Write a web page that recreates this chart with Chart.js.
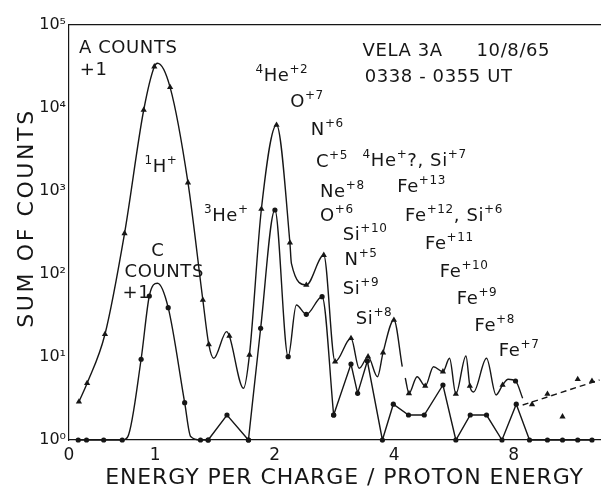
<!DOCTYPE html>
<html lang="en">
<head>
<meta charset="UTF-8">
<title>Vela 3A energy per charge spectrum</title>
<style>
  html, body { margin: 0; padding: 0; background: #fff; }
  canvas { display: block; }
</style>
</head>
<body>
<canvas id="spectrum" width="604" height="489"></canvas>
<script src="https://cdn.jsdelivr.net/npm/chart.js@4"></script>
<script>
// axis ticks
const xTickValues = [0, 1, 2, 4, 8];
const xTickLabels = ['0', '1', '2', '4', '8'];
const yTickValues = [1, 10, 100, 1000, 10000, 100000];
const yTickLabels = ['10⁰', '10¹', '10²', '10³', '10⁴', '10⁵'];

// A counts + 1: measured points ('t' triangle, 'c' dot) and curve vertices ('')
// the null entry is where the pen lifted after the peak at 4
const aEnergy = [0.115, 0.21, 0.417, 0.644, 0.866, 0.989, 1.013, 1.09, 1.209, 1.318,
  1.364, 1.404, 1.513, 1.537, 1.669, 1.727, 1.851, 2.021, 2.184, 2.203,
  2.402, 2.658, 2.839, 3.113, 3.265, 3.437, 3.63, 3.749, 3.993, 4.191,
  4.23, 4.265, 4.357, 4.568, 4.789, 5.024, 5.307, 5.514, 5.72, 6.065,
  6.204, 6.34, 6.834, 7.223, 7.502, 7.745, 8.086, 8.428];
const aCounts = [2.89, 4.82, 18.8, 309, 9460, 31500, 34600, 17750, 1259, 48.6,
  14.2, 9.64, 20.2, 17.9, 4.2, 10.6, 607, 6240, 238, 134.6,
  73.7, 169, 8.78, 16.8, 7.31, 10.1, 5.79, 11.3, 27.9, 7.64,
  null, 5.59, 3.65, 5.79, 4.47, 7.64, 6.65, 9.64, 3.58, 10.3,
  4.47, 3.79, 9.64, 3.49, 4.6, 5.39, 5.14, 3.18];
const aMarker = ['t', 't', 't', 't', 't', 't', '', 't', 't', 't',
  't', '', '', 't', '', 't', 't', 't', 't', '',
  't', 't', 't', 't', '', 't', '', 't', 't', '',
  '', '', 't', '', 't', '', 't', '', 't', '',
  't', '', '', '', 't', '', 'c', ''];

// dashed continuation of A and the scattered points around it
const aTailEnergy = [8.428, 13.16];
const aTailCounts = [2.64, 5.28];
const aTailPointEnergy = [8.9, 9.73, 10.62, 11.6, 12.6];
const aTailPointCounts = [2.69, 3.58, 1.91, 5.39, 5.14];

// C counts + 1
const cEnergy = [0.107, 0.203, 0.402, 0.617, 0.682, 0.836, 0.931, 1.013, 1.078, 1.186,
  1.228, 1.3, 1.359, 1.516, 1.717, 1.843, 2.002, 2.162, 2.267, 2.402,
  2.632, 2.815, 3.113, 3.235, 3.423, 3.735, 3.979, 4.346, 4.762, 5.307,
  5.72, 6.218, 6.834, 7.475, 8.121, 8.77, 9.73, 10.62, 11.6, 12.6];
const cCounts = [1, 1, 1, 1, 1.1, 9.4, 54.3, 77.3, 39.3, 2.82,
  1.1, 1, 1, 2, 1, 22.2, 590, 10.1, 42.3, 32.7,
  53.3, 2, 8.24, 3.65, 8.95, 1, 2.7, 2, 2, 4.6,
  1, 2, 2, 1, 2.7, 1, 1, 1, 1, 1];
const cMarked = [1, 1, 1, 1, 0, 1, 1, 0, 1, 1,
  0, 1, 1, 1, 1, 1, 1, 1, 0, 1,
  1, 1, 1, 1, 1, 1, 1, 1, 1, 1,
  1, 1, 1, 1, 1, 1, 1, 1, 1, 1];
// [first index, last index, smooth curve?]
const cPieces = [[0, 12, true], [12, 14, false], [14, 21, true], [21, 39, false]];

// ion identifications and headings, anchored in data units (left edge, baseline)
const notes = [
  { text: 'A COUNTS', e: 0.115, n: 46000 },
  { text: '+1', e: 0.126, n: 25000 },
  { text: 'VELA 3A', e: 3.33, n: 42300 },
  { text: '10/8/65', e: 6.45, n: 42300 },
  { text: '0338 - 0355 UT', e: 3.37, n: 20600 },
  { text: '^{4}He^{+2}', e: 1.788, n: 21100 },
  { text: 'O^{+7}', e: 2.187, n: 10300 },
  { text: 'N^{+6}', e: 2.466, n: 4730 },
  { text: 'C^{+5}', e: 2.54, n: 1946 },
  { text: '^{4}He^{+}?, Si^{+7}', e: 3.33, n: 2000 },
  { text: 'Ne^{+8}', e: 2.601, n: 847 },
  { text: 'Fe^{+13}', e: 4.07, n: 973 },
  { text: 'O^{+6}', e: 2.601, n: 435 },
  { text: 'Fe^{+12}, Si^{+6}', e: 4.26, n: 435 },
  { text: 'Si^{+10}', e: 2.966, n: 257 },
  { text: 'Fe^{+11}', e: 4.78, n: 200 },
  { text: 'N^{+5}', e: 2.999, n: 128 },
  { text: 'Fe^{+10}', e: 5.21, n: 92 },
  { text: 'Si^{+9}', e: 2.966, n: 57.4 },
  { text: 'Fe^{+9}', e: 5.75, n: 43.5 },
  { text: 'Si^{+8}', e: 3.2, n: 25 },
  { text: 'Fe^{+8}', e: 6.37, n: 20.6 },
  { text: 'Fe^{+7}', e: 7.34, n: 10.3 },
  { text: '^{1}H^{+}', e: 0.874, n: 1694 },
  { text: '^{3}He^{+}', e: 1.326, n: 435 },
  { text: 'C', e: 0.954, n: 165 },
  { text: 'COUNTS', e: 0.644, n: 92 },
  { text: '+1', e: 0.621, n: 51.4 }
];

const ink = '#161616';
const FONT = '"DejaVu Sans", sans-serif';

// energy axis: linear from 0 to 1, then equal spacing per doubling
const OCTAVE = 1.385;
const toU = e => e <= 1 ? e : 1 + Math.log2(e) * OCTAVE;
const fromU = u => u <= 1 ? u : Math.pow(2, (u - 1) / OCTAVE);

class EnergyScale extends Chart.Scale {
  static id = 'energy';
  static defaults = {};

  determineDataLimits() {
    const { min, max } = this.getUserBounds();
    this.min = min;
    this.max = max;
  }
  buildTicks() {
    return xTickValues.map(value => ({ value }));
  }
  configure() {
    super.configure();
    this._u0 = toU(this.min);
    this._uSpan = toU(this.max) - this._u0;
  }
  getLabelForValue(value) {
    return String(value);
  }
  getPixelForValue(value) {
    if (value === null || value === undefined || isNaN(value)) return NaN;
    return this.getPixelForDecimal((toU(value) - this._u0) / this._uSpan);
  }
  getValueForPixel(pixel) {
    return fromU(this._u0 + this.getDecimalForPixel(pixel) * this._uSpan);
  }
}
Chart.register(EnergyScale);

const toPoints = (xs, ys) => xs.map((x, i) => ({ x, y: ys[i] }));

// text with ^{...} runs raised and smaller
function drawRich(ctx, text, x, y, size) {
  const parts = text.split(/(\^\{[^}]*\})/).filter(Boolean);
  for (const part of parts) {
    const sup = part.startsWith('^{');
    const str = sup ? part.slice(2, -1) : part;
    ctx.font = (sup ? Math.round(size * 0.68) : size) + 'px ' + FONT;
    ctx.fillText(str, x, sup ? y - size * 0.45 : y);
    x += ctx.measureText(str).width;
  }
}

const notesPlugin = {
  id: 'notes',
  afterDraw(chart) {
    const { ctx, chartArea } = chart;
    const xs = chart.scales.x, ys = chart.scales.y;
    ctx.save();
    ctx.fillStyle = ink;
    ctx.textBaseline = 'alphabetic';
    ctx.textAlign = 'left';
    ctx.letterSpacing = '0.6px';
    notes.forEach(nt => {
      drawRich(ctx, nt.text, xs.getPixelForValue(nt.e), ys.getPixelForValue(nt.n), 18);
    });

    // axis titles
    ctx.font = '22px ' + FONT;
    ctx.textAlign = 'center';
    ctx.letterSpacing = '0.9px';
    ctx.fillText('ENERGY PER CHARGE / PROTON ENERGY', (chartArea.left + chartArea.right) / 2 + 10, chart.height - 5);
    ctx.translate(chartArea.left - 36, chartArea.top + 193);
    ctx.rotate(-Math.PI / 2);
    ctx.letterSpacing = '2.6px';
    ctx.fillText('SUM OF COUNTS', 0, 0);
    ctx.restore();
  }
};

const datasets = [];

datasets.push({
  data: toPoints(aEnergy, aCounts),
  cubicInterpolationMode: 'monotone',
  spanGaps: false,
  pointStyle: aMarker.map(m => m === 'c' ? 'circle' : 'triangle'),
  pointRadius: aMarker.map(m => m === 'c' ? 2.6 : m === 't' ? 3.6 : 0)
});

cPieces.forEach(([from, to, smooth]) => {
  datasets.push({
    data: toPoints(cEnergy.slice(from, to + 1), cCounts.slice(from, to + 1)),
    cubicInterpolationMode: smooth ? 'monotone' : 'default',
    tension: 0,
    pointStyle: 'circle',
    pointRadius: cMarked.slice(from, to + 1).map(m => m ? 2.6 : 0)
  });
});

datasets.push({
  data: toPoints(aTailEnergy, aTailCounts),
  borderDash: [6, 4],
  pointRadius: 0
});

datasets.push({
  data: toPoints(aTailPointEnergy, aTailPointCounts),
  showLine: false,
  pointStyle: 'triangle',
  pointRadius: 3.6
});

datasets.forEach(ds => {
  ds.borderColor = ink;
  ds.borderWidth = 1.4;
  ds.pointBackgroundColor = ink;
  ds.pointBorderWidth = 0;
  ds.clip = false;
});

new Chart(document.getElementById('spectrum'), {
  type: 'line',
  data: { datasets },
  plugins: [notesPlugin],
  options: {
    responsive: false,
    animation: false,
    layout: { padding: { top: 25, left: 0, right: 0, bottom: 0 } },
    plugins: { legend: { display: false }, tooltip: { enabled: false } },
    scales: {
      x: {
        type: 'energy',
        min: 0,
        max: 13.2,
        grid: { display: false, drawTicks: false },
        border: { display: true, color: ink, width: 1.2 },
        ticks: {
          color: ink,
          font: { family: FONT, size: 17 },
          padding: 5,
          autoSkip: false,
          maxRotation: 0,
          callback: (v, i) => xTickLabels[i]
        },
        afterFit: s => { s.height = 49; }
      },
      x2: {
        type: 'linear',
        position: 'top',
        grid: { display: false, drawTicks: false },
        border: { display: true, color: ink, width: 1.2 },
        ticks: { display: false },
        afterFit: s => { s.height = 0; }
      },
      y: {
        type: 'logarithmic',
        min: 1,
        max: 100000,
        grid: { display: false, drawTicks: false },
        border: { display: true, color: ink, width: 1.2 },
        ticks: {
          color: ink,
          font: { family: FONT, size: 16 },
          padding: 3,
          autoSkip: false,
          callback: (v, i) => yTickLabels[i]
        },
        afterBuildTicks: s => { s.ticks = yTickValues.map(value => ({ value })); },
        afterFit: s => { s.width = 69; }
      }
    }
  }
});
</script>
</body>
</html>
